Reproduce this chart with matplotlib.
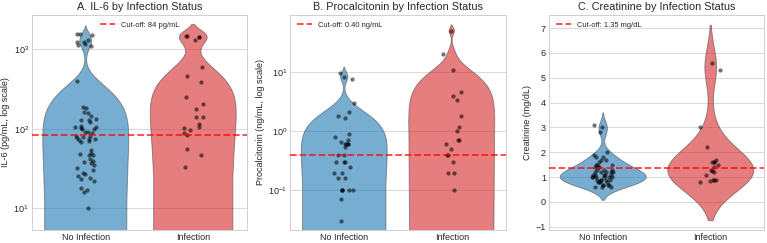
import numpy as np
import matplotlib
matplotlib.use("Agg")
import matplotlib.pyplot as plt

# ---------------- data ----------------
groups = ["No Infection", "Infection"]

il6_no = [1560, 1550, 1500, 1300, 1250, 1230, 1180, 1130, 1100, 395, 186, 181, 164, 157,
          145, 132, 129, 127, 120, 109, 106, 104, 101, 99, 98, 92, 90, 88, 82, 80, 78, 77,
          75, 74, 72, 69, 67, 54, 49, 48, 47, 47, 41, 39, 38, 37, 35, 32, 30, 28, 27, 25,
          24, 23, 22, 18, 17, 16, 10]
il6_inf = [1470, 1450, 1440, 1410, 1310, 600, 466, 392, 254, 203, 176, 142, 140, 115, 105,
           101, 97, 88, 84, 55, 47, 33]

pct_no = [9.8, 8.2, 7.6, 3.0, 2.1, 1.8, 1.7, 0.9, 0.8, 0.7, 0.65, 0.6, 0.6, 0.6, 0.6, 0.55,
          0.4, 0.4, 0.3, 0.3, 0.3, 0.25, 0.2, 0.2, 0.16, 0.16, 0.1, 0.1, 0.1, 0.1, 0.1,
          0.07, 0.03]
pct_inf = [50, 20, 11, 4.6, 4.0, 3.4, 1.8, 1.2, 1.0, 0.7, 0.7, 0.6, 0.5, 0.4, 0.4, 0.3,
           0.2, 0.2, 0.1]

cre_no = [3.1, 3.0, 2.8, 2.0, 1.9, 1.8, 1.8, 1.7, 1.7, 1.6, 1.5, 1.5, 1.5, 1.4, 1.4, 1.4,
          1.3, 1.3, 1.3, 1.2, 1.2, 1.2, 1.2, 1.2, 1.1, 1.1, 1.1, 1.1, 1.1, 1.0, 1.0, 1.0,
          1.0, 1.0, 1.0, 0.9, 0.9, 0.9, 0.9, 0.9, 0.8, 0.8, 0.8, 0.8, 0.7, 0.7, 0.7, 0.7,
          0.6, 0.6, 0.6]
cre_inf = [5.6, 5.3, 3.0, 2.2, 1.7, 1.6, 1.6, 1.6, 1.5, 1.4, 1.3, 1.25, 1.2, 1.1, 0.9, 0.9,
           0.9, 0.85, 0.8]

cutoffs = [84, 0.40, 1.35]
cutoff_labels = ["Cut-off: 84 pg/mL", "Cut-off: 0.40 ng/mL", "Cut-off: 1.35 mg/dL"]
titles = ["A. IL-6 by Infection Status", "B. Procalcitonin by Infection Status",
          "C. Creatinine by Infection Status"]
ylabels = ["IL-6 (pg/mL, log scale)", "Procalcitonin (ng/mL, log scale)", "Creatinine (mg/dL)"]
panels = [(il6_no, il6_inf), (pct_no, pct_inf), (cre_no, cre_inf)]
log_panels = [True, True, False]
legend_locs = ["upper center", "upper left", "upper left"]
ylims = [(5.3, 2700), (0.0213, 93), None]

colors = ["#1f77b4", "#d62728"]

# ---------------- style ----------------
plt.style.use("seaborn-v0_8-whitegrid")
plt.rcParams["font.family"] = ["Liberation Sans", "DejaVu Sans"]
plt.rcParams["font.size"] = 10

DPI = 65
fig, axes = plt.subplots(1, 3, figsize=(767 / DPI, 243 / DPI), dpi=DPI)
fig.subplots_adjust(left=0.0417, right=0.9961, bottom=0.0535, top=0.9383, wspace=0.2023)


def kde_stats(values, cut=2, gridsize=100):
    x = np.asarray(values, dtype=float)
    n = len(x)
    bw = n ** (-1 / 5) * x.std(ddof=1)
    coords = np.linspace(x.min() - cut * bw, x.max() + cut * bw, gridsize)
    dens = np.exp(-0.5 * ((coords[:, None] - x[None, :]) / bw) ** 2).sum(axis=1)
    dens /= n * bw * np.sqrt(2 * np.pi)
    return dict(coords=coords, vals=dens, mean=x.mean(), median=np.median(x),
                min=x.min(), max=x.max(), quantiles=np.array([]))


rng = np.random.default_rng(3)
for i, ax in enumerate(axes):
    data = panels[i]
    stats = [kde_stats(d) for d in data]
    parts = ax.violin(stats, positions=[0, 1], widths=0.8, showmeans=False,
                      showextrema=False, showmedians=False)
    for body, c in zip(parts["bodies"], colors):
        body.set_facecolor(c)
        body.set_alpha(0.6)
        body.set_edgecolor("0.3")
        body.set_linewidth(1.0)
    for j, d in enumerate(data):
        xs = j + rng.uniform(-0.1, 0.1, len(d))
        ax.scatter(xs, d, s=22, color="black", alpha=0.55, linewidths=0, zorder=3)
    ax.axhline(cutoffs[i], color="red", linestyle="--", linewidth=2, alpha=0.75,
               label=cutoff_labels[i], zorder=4)
    if log_panels[i]:
        ax.set_yscale("log")
        ax.set_ylim(*ylims[i])
        ax.yaxis.set_minor_locator(matplotlib.ticker.NullLocator())
    ax.set_xlim(-0.5, 1.5)
    ax.set_xticks([0, 1])
    ax.set_xticklabels(groups)
    ax.xaxis.grid(False)
    ax.set_title(titles[i])
    ax.set_ylabel(ylabels[i])
    ax.legend(loc=legend_locs[i], fontsize="small", frameon=False)

fig.savefig("out.png", dpi=DPI)
